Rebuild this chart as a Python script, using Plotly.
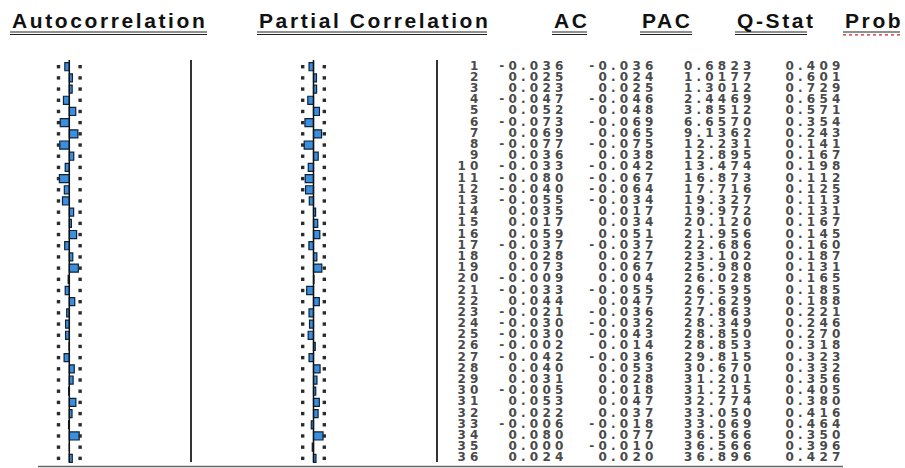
import plotly.graph_objects as go

# ---------------- data ----------------
lags = list(range(1, 37))
ac = [-0.036, 0.025, 0.023, -0.047, 0.052, -0.073, 0.069, -0.077, 0.036, -0.033, -0.080, -0.040,
      -0.055, 0.035, 0.017, 0.059, -0.037, 0.028, 0.073, -0.009, -0.033, 0.044, -0.021, -0.030,
      -0.030, -0.002, -0.042, 0.040, 0.031, -0.005, 0.053, 0.022, -0.006, 0.080, 0.000, 0.024]
pac = [-0.036, 0.024, 0.025, -0.046, 0.048, -0.069, 0.065, -0.075, 0.038, -0.042, -0.067, -0.064,
       -0.034, 0.017, 0.034, 0.051, -0.037, 0.027, 0.067, 0.004, -0.055, 0.047, -0.036, -0.032,
       -0.043, 0.014, -0.036, 0.053, 0.028, 0.018, 0.047, 0.037, -0.018, 0.077, -0.010, 0.020]
qstat = [0.6823, 1.0177, 1.3012, 2.4469, 3.8512, 6.6570, 9.1362, 12.231, 12.895, 13.474, 16.873, 17.716,
         19.327, 19.972, 20.120, 21.956, 22.686, 23.102, 25.980, 26.028, 26.595, 27.629, 27.863, 28.349,
         28.850, 28.853, 29.815, 30.670, 31.201, 31.215, 32.774, 33.050, 33.069, 36.566, 36.566, 36.896]
prob = [0.409, 0.601, 0.729, 0.654, 0.571, 0.354, 0.243, 0.141, 0.167, 0.198, 0.112, 0.125,
        0.113, 0.131, 0.167, 0.145, 0.160, 0.187, 0.131, 0.165, 0.185, 0.188, 0.221, 0.246,
        0.270, 0.318, 0.323, 0.332, 0.356, 0.405, 0.380, 0.416, 0.464, 0.350, 0.396, 0.427]
headers = ["Autocorrelation", "Partial Correlation", "AC", "PAC", "Q-Stat", "Prob"]
n_obs = 526
bound = 2 / n_obs ** 0.5

# ---------------- layout constants (pixels) ----------------
W, H = 905, 468
row_px = 11.19          # pixels per lag row
first_row_px = 66.7     # centre of lag 1
bar_scale = 124.0       # pixels per unit correlation
ac_center_px = 69.3
pac_center_px = 313.5
col_right_px = [482.5, 567.5, 657.5, 755.5, 844.5]
header_left_px = [10, 257, 552, 640, 735, 843]
header_right_px = [207, 487, 587, 692, 807, 900]
header_mid_px = 20.5
sep_px = [191, 437]

y_top = lags[0] - first_row_px / row_px
y_bot = y_top + H / row_px

def py(px):
    return 1 - px / H

def px_x(px):
    return px / W

def fmt(v, nd=3):
    return f"{v:.{nd}f}"

def spaced(s, sp):
    return f'<span style="letter-spacing:{sp}px">{s}</span>'

fig = go.Figure()

bar_fill = "#3b8fdf"
bar_line = "#0e2238"

# AC bars
fig.add_trace(go.Bar(x=ac, y=lags, orientation="h", width=0.72, xaxis="x", yaxis="y",
                     marker=dict(color=bar_fill, line=dict(color=bar_line, width=1.2)),
                     showlegend=False, hoverinfo="skip"))
# PAC bars
fig.add_trace(go.Bar(x=pac, y=lags, orientation="h", width=0.72, xaxis="x2", yaxis="y",
                     marker=dict(color=bar_fill, line=dict(color=bar_line, width=1.2)),
                     showlegend=False, hoverinfo="skip"))

# centre lines + confidence dots
for xa in ["x", "x2"]:
    fig.add_trace(go.Scatter(x=[0, 0], y=[lags[0] - 0.6, lags[-1] + 0.35], mode="lines",
                             xaxis=xa, yaxis="y", line=dict(color="#111", width=1.5),
                             showlegend=False, hoverinfo="skip"))
    for sgn in (-1, 1):
        fig.add_trace(go.Scatter(x=[sgn * bound] * len(lags), y=lags, mode="markers",
                                 xaxis=xa, yaxis="y",
                                 marker=dict(symbol="square", size=3.4, color="#2b2b2b",
                                             line=dict(width=0)),
                                 showlegend=False, hoverinfo="skip"))

# text columns
qfmt = [fmt(q, 4) if q < 10 else fmt(q, 3) for q in qstat]
cols = [
    [str(l) for l in lags],
    [fmt(v) for v in ac],
    [fmt(v) for v in pac],
    qfmt,
    [fmt(v) for v in prob],
]
sp = 4.2
for cx, texts in zip(col_right_px, cols):
    fig.add_trace(go.Scatter(x=[cx] * len(lags), y=lags, mode="text",
                             text=[spaced(t, sp) for t in texts],
                             textposition="middle left", xaxis="x3", yaxis="y",
                             textfont=dict(family="DejaVu Sans", size=12, color="#4a4a4a",
                                           weight="bold"),
                             showlegend=False, hoverinfo="skip"))

ax_common = dict(visible=False, showgrid=False, zeroline=False, domain=[0, 1], fixedrange=True)
fig.update_layout(
    width=W, height=H, autosize=False,
    margin=dict(l=0, r=0, t=0, b=0, pad=0),
    paper_bgcolor="white", plot_bgcolor="white",
    xaxis=dict(range=[-ac_center_px / bar_scale, (W - ac_center_px) / bar_scale], **ax_common),
    xaxis2=dict(range=[-pac_center_px / bar_scale, (W - pac_center_px) / bar_scale],
                overlaying="x", **ax_common),
    xaxis3=dict(range=[0, W], overlaying="x", **ax_common),
    yaxis=dict(range=[y_bot, y_top], visible=False, showgrid=False, zeroline=False,
               fixedrange=True),
    bargap=0,
)

# headers with double underline
shapes = []
annotations = []
for i, (h, l, r) in enumerate(zip(headers, header_left_px, header_right_px)):
    annotations.append(dict(text=spaced(h, 2.6), xref="paper", yref="paper",
                            x=px_x(l), y=py(header_mid_px), xanchor="left", yanchor="middle",
                            showarrow=False,
                            font=dict(family="Liberation Sans", size=21, color="#111",
                                      weight="bold")))
    shapes.append(dict(type="line", xref="paper", yref="paper", x0=px_x(l), x1=px_x(r),
                       y0=py(32), y1=py(32), line=dict(color="#222", width=1)))
    if h == "Prob":
        shapes.append(dict(type="line", xref="paper", yref="paper", x0=px_x(l), x1=px_x(r),
                           y0=py(34.8), y1=py(34.8), line=dict(color="#d02020", width=1.2,
                                                                dash="dot")))
    else:
        shapes.append(dict(type="line", xref="paper", yref="paper", x0=px_x(l), x1=px_x(r),
                           y0=py(34.5), y1=py(34.5), line=dict(color="#222", width=1)))

# separators
for sx in sep_px:
    shapes.append(dict(type="line", xref="paper", yref="paper", x0=px_x(sx), x1=px_x(sx),
                       y0=py(60), y1=py(462), line=dict(color="#333", width=2)))
# bottom rule
shapes.append(dict(type="line", xref="paper", yref="paper", x0=px_x(38), x1=px_x(843),
                   y0=py(466.5), y1=py(466.5), line=dict(color="#666", width=1.5)))

fig.update_layout(shapes=shapes, annotations=annotations)

fig.write_html("out.html", config={"displayModeBar": False, "staticPlot": True},
               post_script="document.body.style.margin='0px';document.body.style.overflow='hidden';")
